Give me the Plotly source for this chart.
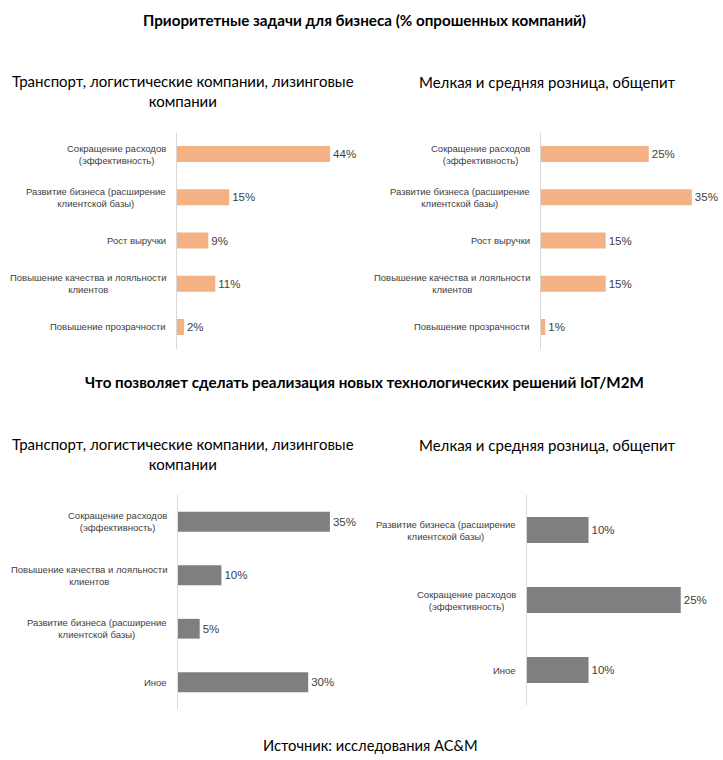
import plotly.graph_objects as go

W, H = 723, 760

# ---- data ----
title_top = "Приоритетные задачи для бизнеса (% опрошенных компаний)"
title_bottom = "Что позволяет сделать реализация новых технологических решений IoT/M2M"
sub_left = "Транспорт, логистические компании, лизинговые<br>компании"
sub_right = "Мелкая и средняя розница, общепит"
source = "Источник: исследования AC&M"

p1_cats = ["Сокращение расходов<br>(эффективность)",
           "Развитие бизнеса (расширение<br>клиентской базы)",
           "Рост выручки",
           "Повышение качества и лояльности<br>клиентов",
           "Повышение прозрачности"]
p1_vals = [44, 15, 9, 11, 2]

p2_cats = ["Сокращение расходов<br>(эффективность)",
           "Развитие бизнеса (расширение<br>клиентской базы)",
           "Рост выручки",
           "Повышение качества и лояльности<br>клиентов",
           "Повышение прозрачности"]
p2_vals = [25, 35, 15, 15, 1]

p3_cats = ["Сокращение расходов<br>(эффективность)",
           "Повышение качества и лояльности<br>клиентов",
           "Развитие бизнеса (расширение<br>клиентской базы)",
           "Иное"]
p3_vals = [35, 10, 5, 30]

p4_cats = ["Развитие бизнеса (расширение<br>клиентской базы)",
           "Сокращение расходов<br>(эффективность)",
           "Иное"]
p4_vals = [10, 25, 10]

ORANGE = "#F4B183"
GRAY = "#7F7F7F"
TXT = "#404040"
LAB_FONT = "Liberation Sans"
HEAD_FONT = "Lato"


def px_x(x):
    return x / W


def px_y(y):
    return 1 - y / H


# panel geometry in pixels: (x0, x1, y_top, y_bottom, xmax)
panels = [
    (p1_cats, p1_vals, ORANGE, 177, 177 + 3.48 * 50, 132.5, 348.5, 50),
    (p2_cats, p2_vals, ORANGE, 541, 541 + 4.31 * 40, 132.5, 348.5, 40),
    (p3_cats, p3_vals, GRAY, 178, 178 + 4.34 * 40, 495, 709, 40),
    (p4_cats, p4_vals, GRAY, 527, 527 + 6.15 * 30, 495, 705, 30),
]

fig = go.Figure()
layout = dict(
    width=W, height=H,
    margin=dict(l=0, r=0, t=0, b=0),
    paper_bgcolor="white", plot_bgcolor="white",
    showlegend=False,
    bargap=0.63,
)
annotations = []

for i, (cats, vals, color, x0, x1, yt, yb, xmax) in enumerate(panels, start=1):
    xa = "x" if i == 1 else f"x{i}"
    ya = "y" if i == 1 else f"y{i}"
    fig.add_trace(go.Bar(
        x=vals, y=list(range(len(cats))), orientation="h",
        xaxis=xa, yaxis=ya,
        marker=dict(color=color, line=dict(width=0)),
        texttemplate="%{x}%", textposition="outside",
        textfont=dict(family=LAB_FONT, size=11.5, color=TXT),
        constraintext="none", cliponaxis=False,
        hoverinfo="skip",
    ))
    xkey = "xaxis" if i == 1 else f"xaxis{i}"
    ykey = "yaxis" if i == 1 else f"yaxis{i}"
    layout[xkey] = dict(domain=[px_x(x0), px_x(x1)], range=[0, xmax],
                        anchor=ya, visible=False, fixedrange=True)
    layout[ykey] = dict(domain=[px_y(yb), px_y(yt)],
                        range=[len(cats) - 0.5, -0.5],
                        anchor=xa, showline=True, linecolor="#D9D9D9",
                        linewidth=1, showticklabels=False, ticks="",
                        showgrid=False, zeroline=False, fixedrange=True)
    for j, c in enumerate(cats):
        annotations.append(dict(
            text=c, xref=f"{xa} domain", yref=ya, x=0, y=j,
            xanchor="right", yanchor="middle", xshift=-9, align="center",
            showarrow=False,
            font=dict(family=LAB_FONT, size=9.5, color=TXT),
        ))

# headings
for txt, y, size in [(title_top, 20, 15.2), (title_bottom, 382, 15.2)]:
    annotations.append(dict(text=f"<b>{txt}</b>", xref="paper", yref="paper",
                            x=px_x(364.5), y=px_y(y), xanchor="center",
                            yanchor="middle", showarrow=False,
                            font=dict(family=HEAD_FONT, size=size, color="black")))
for y in [91, 454]:
    annotations.append(dict(text=sub_left, xref="paper", yref="paper",
                            x=px_x(183), y=px_y(y), xanchor="center",
                            yanchor="middle", showarrow=False, align="center",
                            font=dict(family=HEAD_FONT, size=15, color="black")))
for y in [82, 445]:
    annotations.append(dict(text=sub_right, xref="paper", yref="paper",
                            x=px_x(547.5), y=px_y(y), xanchor="center",
                            yanchor="middle", showarrow=False,
                            font=dict(family=HEAD_FONT, size=15, color="black")))
annotations.append(dict(text=source, xref="paper", yref="paper",
                        x=px_x(371), y=px_y(745), xanchor="center",
                        yanchor="middle", showarrow=False,
                        font=dict(family=HEAD_FONT, size=14.7, color="black")))

layout["annotations"] = annotations
fig.update_layout(**layout)
fig.write_html("out.html",
               config={"displayModeBar": False, "staticPlot": True},
               post_script="document.body.style.margin='0';"
                           "document.body.style.overflow='hidden';")
